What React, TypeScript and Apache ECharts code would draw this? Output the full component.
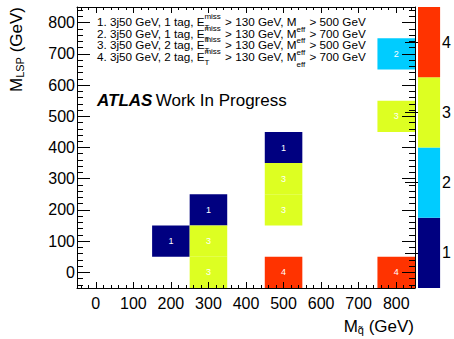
import React, { useEffect, useRef } from "react";
import * as echarts from "echarts";

// Best signal region per (gluino mass, LSP mass) grid point
const gluinoMass = [200, 300, 300, 300, 500, 500, 500, 500, 800, 800, 800];
const lspMass = [100, 200, 100, 0, 400, 300, 200, 0, 700, 500, 0];
const bestRegion = [1, 1, 3, 3, 1, 3, 3, 4, 2, 3, 4];

const xTickValues = [0, 100, 200, 300, 400, 500, 600, 700, 800];
const yTickValues = [0, 100, 200, 300, 400, 500, 600, 700, 800];
const regionLevels = [1, 2, 3, 4];

const legendTags = [1, 1, 2, 2];
const legendMeff = [500, 700, 500, 700];

const regionColors = ["#000080", "#00ccff", "#ddff22", "#ff3300"];
const FONT = "'Liberation Sans', Arial, Helvetica, sans-serif";

function minorValues(): number[] {
  const out: number[] = [];
  for (let v = -40; v <= 840; v += 20) {
    if (v % 100 !== 0) out.push(v);
  }
  return out;
}

function axisPair(
  pos: string,
  major: number[],
  majorLen: number,
  minorLen: number,
  showLabels: boolean,
  labelMargin: number
) {
  const base = {
    type: "value",
    gridIndex: 0,
    position: pos,
    min: -50,
    max: 850,
    z: 5,
    splitLine: { show: false },
  };
  return [
    {
      ...base,
      axisLine: { show: true, onZero: false, lineStyle: { color: "#000", width: 1 } },
      axisTick: {
        show: true,
        inside: true,
        length: majorLen,
        customValues: major,
        lineStyle: { color: "#000", width: 1 },
      },
      axisLabel: {
        show: showLabels,
        customValues: major,
        margin: labelMargin,
        color: "#000",
        fontSize: 16,
        fontFamily: FONT,
      },
    },
    {
      ...base,
      axisLine: { show: false, onZero: false },
      axisTick: {
        show: true,
        inside: true,
        length: minorLen,
        customValues: minorValues(),
        lineStyle: { color: "#000", width: 1 },
      },
      axisLabel: { show: false },
    },
  ];
}

export default function App() {
  const ref = useRef<HTMLDivElement>(null);

  useEffect(() => {
    if (!ref.current) return;
    const chart = echarts.init(ref.current, undefined, { renderer: "svg" });

    const canvas = document.createElement("canvas");
    const ctx = canvas.getContext("2d")!;
    const mainSize = 11.7;
    const smallSize = 8;
    const measure = (t: string, size: number) => {
      ctx.font = `${size}px 'Liberation Sans'`;
      return ctx.measureText(t).width;
    };

    const cellData = gluinoMass.map((x, i) => [x, lspMass[i], bestRegion[i]]);

    const legendEls: any[] = [];
    const x0 = 97;
    for (let i = 0; i < 4; i++) {
      const yc = 21.5 + i * 11.7;
      const a = `${i + 1}. 3j50 GeV, ${legendTags[i]} tag, E`;
      const b = " > 130 GeV, M";
      const c = ` > ${legendMeff[i]} GeV`;
      const xa = x0 + measure(a, mainSize);
      const xb = xa + measure("miss", smallSize) + 1 + measure(b, mainSize);
      const xc = xb + measure("eff", smallSize) + 1;
      const common = { fontFamily: FONT, fill: "#000", verticalAlign: "middle", align: "left" };
      legendEls.push(
        { type: "text", x: x0, y: yc, style: { ...common, text: a, fontSize: mainSize } },
        { type: "text", x: xa, y: yc - 5, style: { ...common, text: "miss", fontSize: smallSize } },
        { type: "text", x: xa, y: yc + 6, style: { ...common, text: "T", fontSize: smallSize } },
        { type: "text", x: xa + measure("miss", smallSize) + 1, y: yc, style: { ...common, text: b, fontSize: mainSize } },
        { type: "text", x: xb, y: yc + 7.5, style: { ...common, text: "eff", fontSize: smallSize } },
        { type: "text", x: xc, y: yc, style: { ...common, text: c, fontSize: mainSize } }
      );
    }

    const option: any = {
      animation: false,
      backgroundColor: "#fff",
      textStyle: { fontFamily: FONT },
      grid: [
        { left: 77, right: 39, top: 7, bottom: 51, containLabel: false },
        { left: 418, width: 25, top: 7, bottom: 51, containLabel: false },
      ],
      xAxis: [
        ...axisPair("bottom", xTickValues, 6, 3, true, 7),
        ...axisPair("top", xTickValues, 6, 3, false, 7),
        { type: "value", gridIndex: 1, min: 0, max: 1, show: false },
      ],
      yAxis: [
        ...axisPair("left", yTickValues, 13, 6, true, 2),
        ...axisPair("right", yTickValues, 13, 6, false, 2),
        {
          type: "value",
          gridIndex: 1,
          position: "right",
          min: 0.5,
          max: 4.5,
          z: 5,
          splitLine: { show: false },
          axisLine: { show: false },
          axisTick: {
            show: true,
            inside: true,
            length: 13,
            customValues: regionLevels,
            lineStyle: { color: "#000", width: 1 },
          },
          axisLabel: {
            show: true,
            customValues: regionLevels,
            margin: 2,
            color: "#000",
            fontSize: 16,
            fontFamily: FONT,
          },
        },
      ],
      series: [
        {
          type: "custom",
          xAxisIndex: 0,
          yAxisIndex: 0,
          z: 2,
          clip: true,
          data: cellData,
          renderItem: (params: any, api: any) => {
            const x = api.value(0);
            const y = api.value(1);
            const v = api.value(2);
            const p1 = api.coord([x - 50, y + 50]);
            const p2 = api.coord([x + 50, y - 50]);
            return {
              type: "group",
              children: [
                {
                  type: "rect",
                  shape: { x: p1[0], y: p1[1], width: p2[0] - p1[0], height: p2[1] - p1[1] },
                  style: { fill: regionColors[v - 1] },
                },
                {
                  type: "text",
                  x: (p1[0] + p2[0]) / 2,
                  y: (p1[1] + p2[1]) / 2,
                  style: {
                    text: String(v),
                    fill: "#ffffff",
                    fontSize: 9,
                    fontFamily: FONT,
                    align: "center",
                    verticalAlign: "middle",
                  },
                },
              ],
            };
          },
        },
        {
          type: "custom",
          xAxisIndex: 4,
          yAxisIndex: 4,
          z: 2,
          data: regionLevels.map((v) => [v]),
          renderItem: (params: any, api: any) => {
            const v = api.value(0);
            const p1 = api.coord([0, v + 0.5]);
            const p2 = api.coord([1, v - 0.5]);
            return {
              type: "rect",
              shape: { x: p1[0], y: p1[1], width: p2[0] - p1[0], height: p2[1] - p1[1] },
              style: { fill: regionColors[v - 1] },
            };
          },
        },
      ],
      graphic: [
        ...legendEls,
        {
          type: "text",
          x: 97,
          y: 100,
          style: {
            text: "{b|ATLAS} {n|Work In Progress}",
            verticalAlign: "middle",
            align: "left",
            rich: {
              b: { fontSize: 17, fontWeight: "bold", fontStyle: "italic", fontFamily: FONT, fill: "#000" },
              n: { fontSize: 17, fontFamily: FONT, fill: "#000" },
            },
          },
        },
        {
          type: "text",
          x: 414,
          y: 326,
          style: {
            text: "{m|M}{s|q\u0303}{m| (GeV)}",
            align: "right",
            verticalAlign: "middle",
            rich: {
              m: { fontSize: 17, lineHeight: 18, fontFamily: FONT, fill: "#000" },
              s: { fontSize: 11, lineHeight: 8, verticalAlign: "bottom", fontFamily: FONT, fill: "#000" },
            },
          },
        },
        {
          type: "text",
          x: 16,
          y: 7,
          rotation: Math.PI / 2,
          style: {
            text: "{m|M}{s|LSP}{m| (GeV)}",
            align: "right",
            verticalAlign: "middle",
            rich: {
              m: { fontSize: 17, lineHeight: 18, fontFamily: FONT, fill: "#000" },
              s: { fontSize: 11, lineHeight: 8, verticalAlign: "bottom", fontFamily: FONT, fill: "#000" },
            },
          },
        },
      ],
    };

    chart.setOption(option);
    return () => chart.dispose();
  }, []);

  return (
    <div
      ref={ref}
      style={{ position: "fixed", left: 0, top: 0, width: 454, height: 339 }}
    />
  );
}
